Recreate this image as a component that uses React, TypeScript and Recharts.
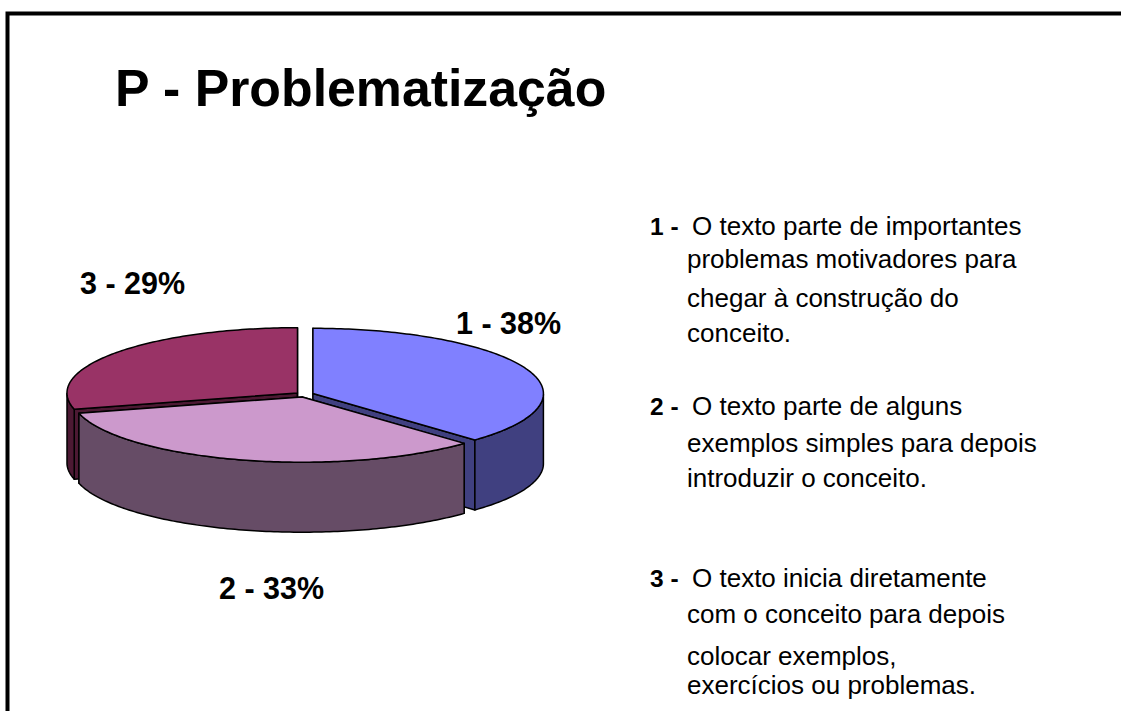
import { PieChart, Pie } from 'recharts';

const FONT = '"Liberation Sans", Arial, sans-serif';

// drawn in this order so that the front slice (2) ends up on top
const categories = ['3', '1', '2'];
const shares = [29, 37.6, 33.4]; // read from the slice edges, labels show them rounded
const topColors = ['#993366', '#8080FF', '#CC99CC'];
const sideColors = ['#4C1933', '#404080', '#664C66'];

const legendFirst = [
  { n: '1 -', text: 'O texto parte de importantes', y: 235 },
  { n: '2 -', text: 'O texto parte de alguns', y: 415 },
  { n: '3 -', text: 'O texto inicia diretamente', y: 587 },
];
const legendRest = [
  { text: 'problemas motivadores para', y: 268 },
  { text: 'chegar à construção do', y: 307 },
  { text: 'conceito.', y: 342 },
  { text: 'exemplos simples para depois', y: 452 },
  { text: 'introduzir o conceito.', y: 487 },
  { text: 'com o conceito para depois', y: 623 },
  { text: 'colocar exemplos,', y: 665 },
  { text: 'exercícios ou problemas.', y: 694 },
];

const labelSpots: Record<string, { x: number; y: number }> = {
  '1': { x: 456, y: 334 },
  '2': { x: 219, y: 599 },
  '3': { x: 80, y: 294 },
};

const TILT = 0.283;
const DEPTH = 70;
const EXPLODE = 9;

const rad = (a: number) => (a * Math.PI) / 180;

const poly = (pts: number[][]) =>
  pts.map((p, i) => `${i ? 'L' : 'M'}${p[0].toFixed(2)},${p[1].toFixed(2)}`).join(' ') + ' Z';

// pie slice squashed into an ellipse, with side walls below it
const Slice3D = (props: any) => {
  const { cx, cy, outerRadius: r, startAngle, endAngle, index } = props;
  const mid = (startAngle + endAngle) / 2;
  const ox = cx + EXPLODE * Math.cos(rad(mid));
  const oy = cy - EXPLODE * Math.sin(rad(mid)) * TILT;
  const at = (a: number) => [ox + r * Math.cos(rad(a)), oy - r * TILT * Math.sin(rad(a))];
  const drop = (p: number[]) => [p[0], p[1] + DEPTH];

  const arc: number[][] = [];
  const front: number[][] = [];
  const steps = Math.ceil(Math.abs(startAngle - endAngle));
  for (let i = 0; i <= steps; i++) {
    const a = startAngle + ((endAngle - startAngle) * i) / steps;
    arc.push(at(a));
    if (Math.sin(rad(a)) <= 0.0001) front.push(at(a));
  }
  const center = [ox, oy];
  const first = arc[0];
  const last = arc[arc.length - 1];
  const side = sideColors[index];
  const edge = { stroke: '#000', strokeWidth: 1.5, strokeLinejoin: 'round' as const };

  return (
    <g>
      <path d={poly([center, first, drop(first), drop(center)])} fill={side} {...edge} />
      <path d={poly([center, last, drop(last), drop(center)])} fill={side} {...edge} />
      {front.length > 1 && (
        <path d={poly([...front, ...[...front].reverse().map(drop)])} fill={side} {...edge} />
      )}
      <path d={poly([center, ...arc])} fill={topColors[index]} {...edge} />
    </g>
  );
};

const sliceLabel = (props: any) => {
  const name = props.payload.name;
  const spot = labelSpots[name];
  return (
    <text x={spot.x} y={spot.y} fontFamily={FONT} fontWeight="bold" fontSize={30.5} fill="#000">
      {`${name} - ${Math.round(props.payload.value)}%`}
    </text>
  );
};

const App = () => {
  const data = categories.map((name, i) => ({ name, value: shares[i] }));
  // slice 1 must begin at twelve o'clock, so the start is pushed back by slice 3
  const start = 90 + (360 * shares[0]) / shares.reduce((a, b) => a + b, 0);

  return (
    <div style={{ position: 'absolute', left: 0, top: 0, width: 1121, height: 711, background: '#fff', overflow: 'hidden' }}>
      <svg width={1121} height={711} style={{ position: 'absolute', left: 0, top: 0 }}>
        <path d="M7.5,711 V13.5 H1121" fill="none" stroke="#000" strokeWidth={4} />
        <text x={115} y={106} fontFamily={FONT} fontWeight="bold" fontSize={51.8} fill="#000">
          P - Problematização
        </text>
        {legendFirst.map((l) => (
          <g key={l.n} fontFamily={FONT} fill="#000">
            <text x={650} y={l.y} fontWeight="bold" fontSize={24.5}>{l.n}</text>
            <text x={692} y={l.y} fontSize={26}>{l.text}</text>
          </g>
        ))}
        {legendRest.map((l) => (
          <text key={l.text} x={687} y={l.y} fontFamily={FONT} fontSize={26} fill="#000">
            {l.text}
          </text>
        ))}
      </svg>
      <div style={{ position: 'absolute', left: 0, top: 0 }}>
        <PieChart width={1121} height={711} margin={{ top: 0, right: 0, bottom: 0, left: 0 }}>
          <Pie
            data={data}
            dataKey="value"
            nameKey="name"
            cx={304.6}
            cy={394.5}
            outerRadius={230.5}
            startAngle={start}
            endAngle={start - 360}
            stroke="none"
            shape={Slice3D}
            label={sliceLabel}
            labelLine={false}
            isAnimationActive={false}
          />
        </PieChart>
      </div>
    </div>
  );
};

export default App;
